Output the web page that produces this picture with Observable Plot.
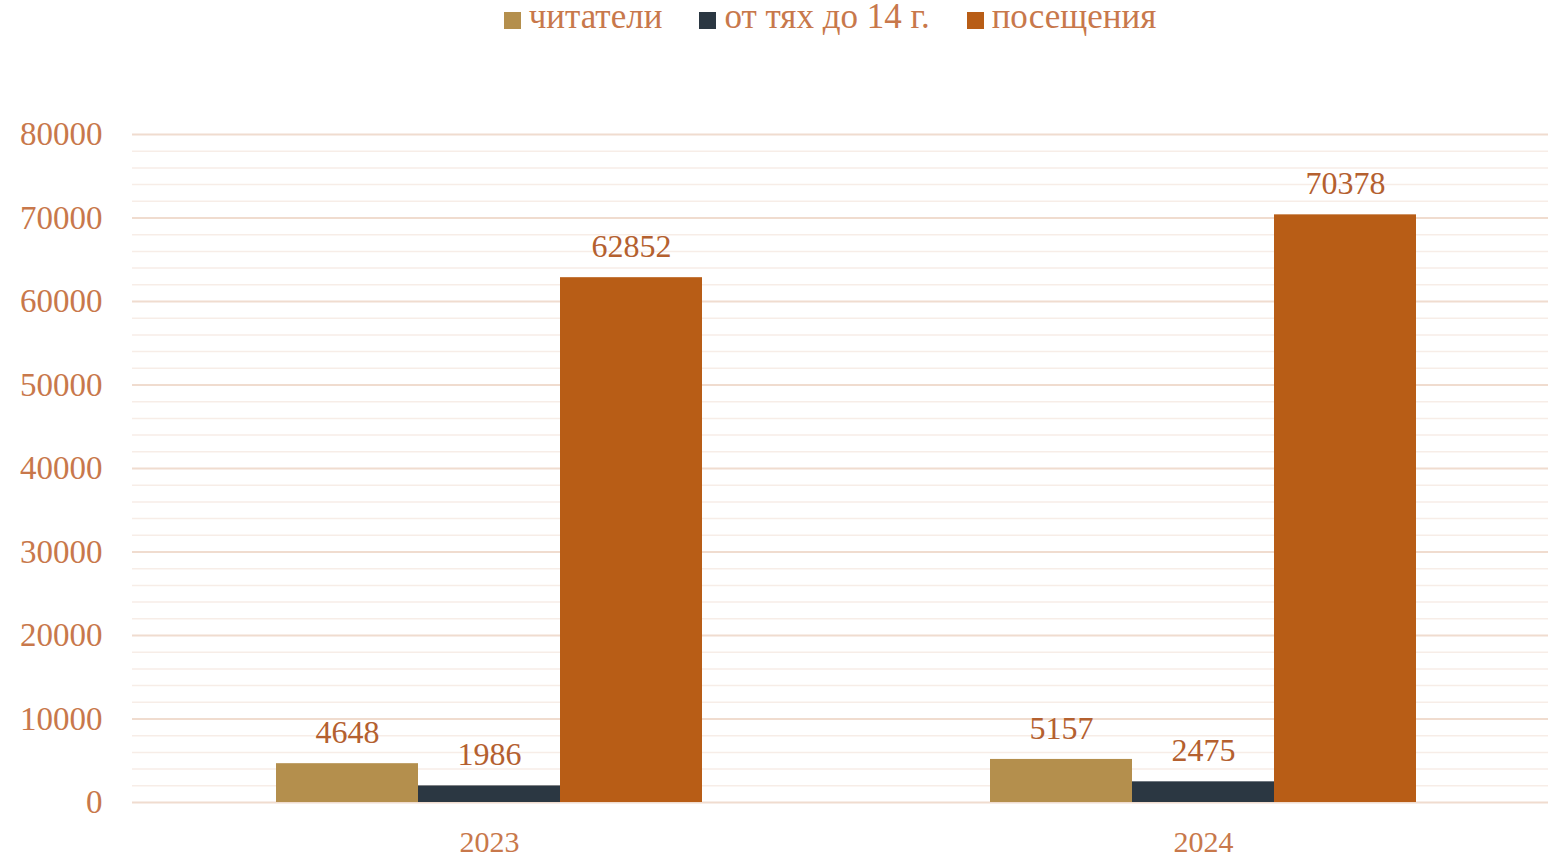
<!DOCTYPE html>
<html><head><meta charset="utf-8">
<script src="https://cdn.jsdelivr.net/npm/d3@7"></script>
<script src="https://cdn.jsdelivr.net/npm/@observablehq/plot@0.6"></script>
<style>
html,body{margin:0;background:#fff;font-family:"Liberation Serif",serif;overflow:hidden;width:1548px;}
#legend{width:1548px;box-sizing:border-box;padding-left:112px;height:40px;display:flex;justify-content:center;align-items:center;gap:37px;font-size:35px;color:#C8784B;}
#legend .item{display:flex;align-items:center;gap:8px;}
#legend .sw{width:17px;height:17px;display:inline-block;}
#legend span.t{position:relative;top:-3px;}
#chart{width:1548px;overflow:hidden;}
#chart svg{max-width:none !important;}
</style></head><body>
<div id="legend"></div><div id="chart"></div>
<script>
const years = ["2023", "2024"];
const series = ["читатели", "от тях до 14 г.", "посещения"];
const readers = [4648, 5157];
const children = [1986, 2475];
const visits = [62852, 70378];
const colors = ["#B48F4D", "#2B3742", "#B85D16"];
const majorTicks = [0, 10000, 20000, 30000, 40000, 50000, 60000, 70000, 80000];
const minorTicks = [2000, 4000, 6000, 8000, 12000, 14000, 16000, 18000, 22000, 24000, 26000, 28000, 32000, 34000, 36000, 38000, 42000, 44000, 46000, 48000, 52000, 54000, 56000, 58000, 62000, 64000, 66000, 68000, 72000, 74000, 76000, 78000];

const valuesBySeries = [readers, children, visits];
const data = [];
years.forEach((yr, i) => {
  series.forEach((s, j) => data.push({year: yr, series: s, value: valuesBySeries[j][i]}));
});

const leg = document.getElementById("legend");
series.forEach((s, j) => {
  const it = document.createElement("div");
  it.className = "item";
  it.innerHTML = `<span class="sw" style="background:${colors[j]}"></span><span class="t">${s}</span>`;
  leg.appendChild(it);
});

const chart = Plot.plot({
  width: 1560,
  height: 820,
  marginLeft: 132,
  marginRight: 0,
  marginTop: 94,
  marginBottom: 58,
  style: {fontFamily: "Liberation Serif, serif", background: "#fff", maxWidth: "none"},
  fx: {domain: years, padding: 0, label: null, axis: null},
  x: {domain: series, paddingInner: 0, paddingOuter: 1.0, axis: null},
  y: {domain: [0, 80000], axis: null},
  color: {domain: series, range: colors},
  marks: [
    Plot.ruleY(minorTicks, {stroke: "#F7EDE7", strokeWidth: 1.5}),
    Plot.ruleY(majorTicks, {stroke: "#F0DCCF", strokeWidth: 1.8}),
    Plot.barY(data, {fx: "year", x: "series", y: "value", fill: "series"}),
    Plot.text(data, {fx: "year", x: "series", y: "value", text: d => String(d.value), lineAnchor: "middle", dy: -31, fontSize: 32, fill: "#B4602F"}),
    Plot.axisY(majorTicks, {tickSize: 0, tickPadding: 30, fontSize: 33, fill: "#C8784B", tickFormat: d => String(d), label: null, frameAnchor: "left", facetAnchor: "left"}),
    Plot.axisFx({anchor: "bottom", tickSize: 0, tickPadding: 28, fontSize: 30, fill: "#C8784B", label: null})
  ]
});
chart.style.maxWidth = "none";
document.getElementById("chart").appendChild(chart);
</script>
</body></html>
